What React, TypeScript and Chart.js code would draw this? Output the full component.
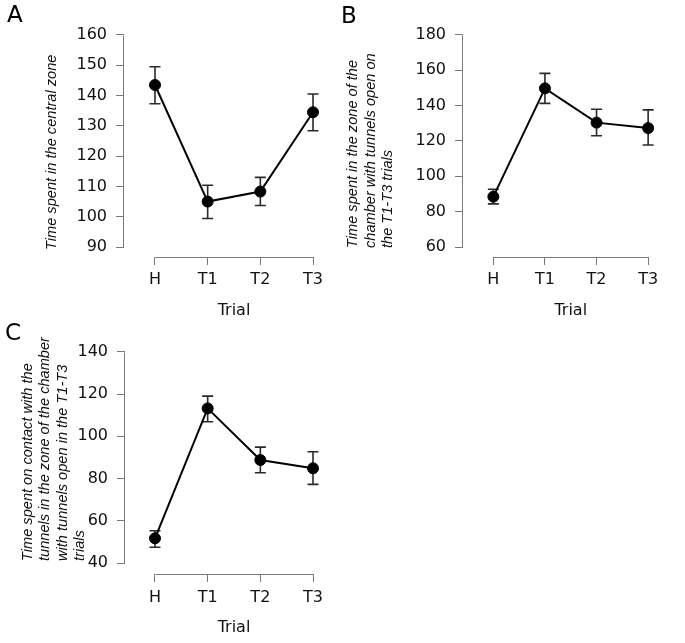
import React, { useEffect, useRef } from "react";
import { Chart, registerables } from "chart.js";

Chart.register(...registerables);

const PAGE_W = 685;
const PAGE_H = 643;

// ---------- data ----------
const trialLabels = ["H", "T1", "T2", "T3"];
const trialPositions = [0, 1, 2, 3];

const meanA = [143.5, 105, 108.3, 134.5];
const lowA = [137.3, 99.4, 103.7, 128.4];
const highA = [149.5, 110.4, 113, 140.5];
const yTicksA = [90, 100, 110, 120, 130, 140, 150, 160];
const titleA = ["Time spent in the central zone"];

const meanB = [88.5, 149.8, 130.4, 127.3];
const lowB = [84.4, 141.3, 123, 117.7];
const highB = [92.7, 158.3, 138, 137.6];
const yTicksB = [60, 80, 100, 120, 140, 160, 180];
const titleB = [
  "Time spent in the zone of the",
  "chamber with tunnels open on",
  "the T1-T3 trials",
];

const meanC = [51.8, 113.2, 88.8, 84.9];
const lowC = [47.6, 106.9, 82.8, 77.3];
const highC = [55.4, 119, 94.9, 92.7];
const yTicksC = [40, 60, 80, 100, 120, 140];
const titleC = [
  "Time spent on contact with the",
  "tunnels in the zone of the chamber",
  "with tunnels open in the T1-T3",
  "trials",
];

const xAxisTitle = "Trial";

// ---------- styles ----------
const AXIS_COLOR = "#7a7a7a";
const TEXT_COLOR = "#111111";
const BAR_COLOR = "#2a2a2a";
const TICK_FONT = { family: "'DejaVu Sans', sans-serif", size: 16 };
const YTITLE_FONT = "italic 14.6px 'Liberation Sans', Arial, sans-serif";
const LETTER_FONT = "23px 'DejaVu Sans', sans-serif";

type Panel = {
  letter: string;
  letterX: number;
  letterY: number;
  title: string[];
  titleX: number;
  titleY: number;
  lineGap: number;
  mean: number[];
  low: number[];
  high: number[];
  yTicks: number[];
  yMin: number;
  yMax: number;
  xMin: number;
  xMax: number;
  pad: { left: number; right: number; top: number; bottom: number };
  yWidth: number;
  xHeight: number;
  xTickPad: number;
};

const panels: Panel[] = [
  {
    letter: "A", letterX: 7, letterY: 22,
    title: titleA, titleX: 52, titleY: 250, lineGap: 17.5,
    mean: meanA, low: lowA, high: highA, yTicks: yTicksA,
    yMin: 86.7, yMax: 162.97, xMin: -0.5886, xMax: 3.5886,
    pad: { left: 0, right: 341, top: 26, bottom: 322.4 },
    yWidth: 124, xHeight: 63.6, xTickPad: 5,
  },
  {
    letter: "B", letterX: 341, letterY: 23,
    title: titleB, titleX: 353, titleY: 248, lineGap: 17.5,
    mean: meanB, low: lowB, high: highB, yTicks: yTicksB,
    yMin: 54.34, yMax: 185.09, xMin: -0.5886, xMax: 3.5886,
    pad: { left: 339, right: 2, top: 26, bottom: 322.4 },
    yWidth: 124, xHeight: 63.6, xTickPad: 5,
  },
  {
    letter: "C", letterX: 5, letterY: 340,
    title: titleC, titleX: 28, titleY: 561, lineGap: 17.3,
    mean: meanC, low: lowC, high: highC, yTicks: yTicksC,
    yMin: 34.94, yMax: 144.25, xMin: -0.5696, xMax: 3.5696,
    pad: { left: 0, right: 342, top: 342.7, bottom: 5.9 },
    yWidth: 125, xHeight: 63.1, xTickPad: 6,
  },
];

function makeDecor(p: Panel) {
  return {
    id: "decor" + p.letter,
    beforeDatasetsDraw(chart: any) {
      const { ctx, chartArea, scales } = chart;
      const xs = scales.x;
      const ys = scales.y;
      ctx.save();
      // detached axis lines
      ctx.strokeStyle = AXIS_COLOR;
      ctx.lineWidth = 1;
      const ax = Math.round(chartArea.left) - 0.5;
      ctx.beginPath();
      ctx.moveTo(ax, Math.round(ys.getPixelForValue(p.yTicks[p.yTicks.length - 1])) + 0.5);
      ctx.lineTo(ax, Math.round(ys.getPixelForValue(p.yTicks[0])) + 0.5);
      ctx.stroke();
      const ay = Math.round(chartArea.bottom) + 0.5;
      ctx.beginPath();
      ctx.moveTo(Math.round(xs.getPixelForValue(trialPositions[0])) + 0.5, ay);
      ctx.lineTo(Math.round(xs.getPixelForValue(trialPositions[trialPositions.length - 1])) + 0.5, ay);
      ctx.stroke();
      // error bars
      ctx.strokeStyle = BAR_COLOR;
      ctx.lineWidth = 1.6;
      const cap = 5.5;
      trialPositions.forEach((pos, i) => {
        const x = xs.getPixelForValue(pos);
        const yl = ys.getPixelForValue(p.low[i]);
        const yh = ys.getPixelForValue(p.high[i]);
        ctx.beginPath();
        ctx.moveTo(x, yl);
        ctx.lineTo(x, yh);
        ctx.moveTo(x - cap, yl);
        ctx.lineTo(x + cap, yl);
        ctx.moveTo(x - cap, yh);
        ctx.lineTo(x + cap, yh);
        ctx.stroke();
      });
      ctx.restore();
    },
    afterDraw(chart: any) {
      const { ctx } = chart;
      ctx.save();
      ctx.fillStyle = "#000";
      ctx.font = LETTER_FONT;
      ctx.textAlign = "left";
      ctx.textBaseline = "alphabetic";
      ctx.fillText(p.letter, p.letterX, p.letterY);
      ctx.fillStyle = TEXT_COLOR;
      ctx.font = YTITLE_FONT;
      ctx.textBaseline = "middle";
      p.title.forEach((line, i) => {
        ctx.save();
        ctx.translate(p.titleX + i * p.lineGap, p.titleY);
        ctx.rotate(-Math.PI / 2);
        ctx.fillText(line, 0, 0);
        ctx.restore();
      });
      ctx.restore();
    },
  };
}

function PanelChart({ panel }: { panel: Panel }) {
  const ref = useRef<HTMLCanvasElement>(null);
  useEffect(() => {
    const canvas = ref.current;
    if (!canvas) return;
    const p = panel;
    const chart = new Chart(canvas, {
      type: "line",
      data: {
        datasets: [
          {
            data: p.mean.map((v, i) => ({ x: trialPositions[i], y: v })),
            borderColor: "#000",
            borderWidth: 2,
            pointRadius: 5.5,
            pointBorderWidth: 1,
            pointBackgroundColor: "#000",
            pointBorderColor: "#000",
            tension: 0,
            clip: false as any,
          },
        ],
      },
      options: {
        responsive: false,
        devicePixelRatio: 1,
        animation: false,
        events: [],
        layout: { padding: p.pad },
        plugins: {
          legend: { display: false },
          tooltip: { enabled: false },
          title: { display: false },
        },
        scales: {
          x: {
            type: "linear",
            position: "bottom",
            min: p.xMin,
            max: p.xMax,
            afterBuildTicks: (s: any) => {
              s.ticks = trialPositions.map((v) => ({ value: v }));
            },
            afterFit: (s: any) => {
              s.height = p.xHeight;
            },
            ticks: {
              callback: (v: any) => trialLabels[trialPositions.indexOf(Number(v))] ?? "",
              font: TICK_FONT,
              color: TEXT_COLOR,
              padding: p.xTickPad,
              maxRotation: 0,
              autoSkip: false,
            },
            grid: {
              display: true,
              drawOnChartArea: false,
              drawTicks: true,
              tickLength: 8,
              color: AXIS_COLOR,
              lineWidth: 1,
            },
            border: { display: false },
            title: {
              display: true,
              text: xAxisTitle,
              font: TICK_FONT,
              color: TEXT_COLOR,
              padding: { top: 0, bottom: 0 },
            },
          },
          y: {
            type: "linear",
            position: "left",
            min: p.yMin,
            max: p.yMax,
            afterBuildTicks: (s: any) => {
              s.ticks = p.yTicks.map((v) => ({ value: v }));
            },
            afterFit: (s: any) => {
              s.width = p.yWidth;
            },
            ticks: {
              font: TICK_FONT,
              color: TEXT_COLOR,
              padding: 9,
              autoSkip: false,
            },
            grid: {
              display: true,
              drawOnChartArea: false,
              drawTicks: true,
              tickLength: 8,
              color: AXIS_COLOR,
              lineWidth: 1,
            },
            border: { display: false },
          },
        },
      },
      plugins: [makeDecor(p)],
    } as any);
    return () => chart.destroy();
  }, [panel]);
  return (
    <canvas
      ref={ref}
      width={PAGE_W}
      height={PAGE_H}
      style={{ position: "absolute", left: 0, top: 0, width: PAGE_W, height: PAGE_H, display: "block" }}
    />
  );
}

export default function App() {
  return (
    <div
      style={{
        position: "absolute",
        left: 0,
        top: 0,
        width: PAGE_W,
        height: PAGE_H,
        background: "#fff",
        overflow: "hidden",
      }}
    >
      {panels.map((p) => (
        <PanelChart key={p.letter} panel={p} />
      ))}
    </div>
  );
}
